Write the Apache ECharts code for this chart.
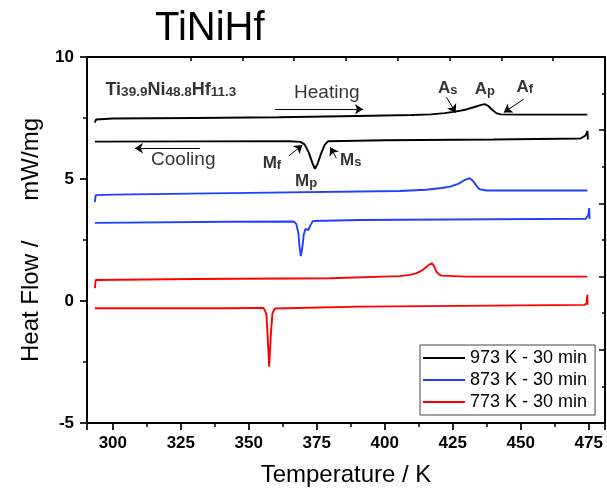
<!DOCTYPE html>
<html>
<head>
<meta charset="utf-8">
<script src="https://cdn.jsdelivr.net/npm/echarts@6.0.0/dist/echarts.min.js"></script>
<style>
  html, body { margin: 0; padding: 0; background: #fff; }
  #chart { width: 607px; height: 492px; }
</style>
</head>
<body>
<div id="chart"></div>
<script>
// curves: [temperature K, heat flow mW/mg]
const black973Heating = [
  [293.4, 7.31], [293.8, 7.44], [300, 7.48], [330, 7.50], [361, 7.53], [390, 7.58],
  [410, 7.62], [417, 7.65], [422, 7.70], [426, 7.76], [430, 7.85], [433, 7.95],
  [435.5, 8.04], [436.8, 8.07], [438, 8.00], [439.5, 7.84], [441, 7.70], [442.5, 7.65],
  [450, 7.64], [474.5, 7.64]
];
const black973Cooling = [
  [293.4, 6.53], [330, 6.54], [365, 6.55], [369, 6.52], [370.5, 6.42], [372, 6.10],
  [373.4, 5.65], [374.3, 5.42], [375.3, 5.62], [376.6, 6.05], [377.9, 6.40], [379.2, 6.55],
  [400, 6.59], [440, 6.62], [472, 6.66], [473.8, 6.78], [474.6, 6.97], [474.7, 6.62]
];
const blue873Heating = [
  [293.4, 4.06], [293.7, 4.34], [300, 4.36], [350, 4.43], [405.5, 4.51], [415, 4.56],
  [421, 4.63], [424, 4.69], [427, 4.80], [428.8, 4.92], [430.3, 5.00], [431.3, 5.03],
  [432.2, 4.95], [433.1, 4.82], [434, 4.68], [434.9, 4.58], [437.6, 4.53], [474.5, 4.53]
];
const blue873Cooling = [
  [293.4, 3.20], [343, 3.25], [366.5, 3.26], [367.5, 3.15], [368.2, 2.80], [368.7, 2.20],
  [369.1, 1.84], [369.6, 2.10], [370.2, 2.70], [370.8, 2.95], [371.2, 2.98], [371.9, 2.91],
  [372.7, 3.11], [373.6, 3.28], [390.8, 3.32], [440, 3.35], [474, 3.37], [474.9, 3.55],
  [475.2, 3.81], [475.3, 3.36]
];
const red773Heating = [
  [293.4, 0.53], [293.7, 0.86], [330, 0.90], [379.8, 0.93], [405.5, 1.02], [409.2, 1.07],
  [411.5, 1.13], [412.9, 1.20], [414.5, 1.32], [416.2, 1.48], [417.4, 1.54], [418.2, 1.42],
  [419.0, 1.20], [420, 1.09], [420.8, 1.04], [430, 1.00], [474.5, 1.00]
];
const red773Cooling = [
  [293.4, -0.30], [343, -0.30], [355.3, -0.28], [356.0, -0.40], [356.5, -0.57],
  [356.9, -1.39], [357.5, -2.69], [358.1, -1.39], [358.7, -0.50], [359.6, -0.31],
  [390.8, -0.23], [440, -0.19], [473.4, -0.16], [474.2, -0.10], [474.5, 0.25], [474.6, -0.15]
];

const legendNames = ['973 K - 30 min', '873 K - 30 min', '773 K - 30 min'];
const curveColors = ['#000000', '#1f40ff', '#ff0000'];

// text labels on the plot: [T, V], rich formatter, where the point sits
const notes = [
  { at: [297.1, 8.73], text: '{b|Ti}{s|39.9}{b|Ni}{s|48.8}{b|Hf}{s|11.3}', pos: 'right' },
  { at: [378.7, 8.52], text: '{n|Heating}', pos: 'inside' },
  { at: [325.9, 5.78], text: '{n|Cooling}', pos: 'inside' },
  { at: [423.2, 8.81], text: '{m|A}{t|s}', pos: 'inside' },
  { at: [436.8, 8.77], text: '{m|A}{t|p}', pos: 'inside' },
  { at: [451.5, 8.85], text: '{m|A}{t|f}', pos: 'inside' },
  { at: [358.5, 5.74], text: '{m|M}{t|f}', pos: 'inside' },
  { at: [387.5, 5.86], text: '{m|M}{t|s}', pos: 'inside' },
  { at: [371.1, 5.00], text: '{m|M}{t|p}', pos: 'inside' }
];
// arrows: from -> to (head at "to")
const arrows = [
  [[359.6, 7.86], [392.0, 7.86]],
  [[332.0, 6.26], [308.1, 6.26]],
  [[422.7, 8.35], [426.1, 7.72]],
  [[451.1, 8.27], [443.8, 7.73]],
  [[364.8, 5.95], [369.7, 6.39]],
  [[382.2, 5.85], [380.0, 6.30]]
];
const topTicks = ['0', '1', '2', '3', '4', '5', '6', '7', '8', '9', '10'];

const FONT = 'Liberation Sans, Arial, sans-serif';
const rich = {
  b: { fontFamily: FONT, fontSize: 18, fontWeight: 'bold', color: '#000', lineHeight: 22, verticalAlign: 'bottom' },
  s: { fontFamily: FONT, fontSize: 13.5, fontWeight: 'bold', color: '#000', lineHeight: 10, verticalAlign: 'bottom' },
  m: { fontFamily: FONT, fontSize: 17, fontWeight: 'bold', color: '#000', lineHeight: 22, verticalAlign: 'bottom' },
  t: { fontFamily: FONT, fontSize: 13, fontWeight: 'bold', color: '#000', lineHeight: 10, verticalAlign: 'bottom' },
  n: { fontFamily: FONT, fontSize: 19, color: '#000', lineHeight: 22 }
};

const chart = echarts.init(document.getElementById('chart'));

function curve(name, data, color) {
  return {
    name: name,
    type: 'line',
    data: data,
    symbol: 'none',
    smooth: false,
    lineStyle: { color: color, width: 1.9 },
    itemStyle: { color: color },
    xAxisIndex: 0,
    yAxisIndex: 0
  };
}

const option = {
  animation: false,
  backgroundColor: '#fff',
  title: {
    text: 'TiNiHf',
    left: 150,
    top: 4,
    textStyle: { fontFamily: FONT, fontSize: 40, fontWeight: 'normal', color: '#000' }
  },
  grid: { left: 87, right: 2, top: 57, bottom: 68, containLabel: false },
  legend: {
    data: legendNames,
    orient: 'vertical',
    left: 420,
    top: 345,
    icon: 'path://M0,0H42V2H0Z',
    itemWidth: 42,
    itemHeight: 14,
    itemGap: 2,
    padding: [3, 8, 3, 3],
    borderColor: '#444',
    borderWidth: 1,
    backgroundColor: '#fff',
    textStyle: { fontFamily: FONT, fontSize: 18, color: '#000', lineHeight: 20 }
  },
  xAxis: [
    {
      type: 'value',
      position: 'bottom',
      min: 290.5,
      max: 481,
      minInterval: 25,
      maxInterval: 25,
      name: 'Temperature / K',
      nameLocation: 'middle',
      nameGap: 40,
      nameTextStyle: { fontFamily: FONT, fontSize: 24, color: '#000' },
      axisLine: { onZero: false, lineStyle: { color: '#000', width: 2 } },
      axisTick: { inside: false, length: 7, lineStyle: { color: '#000', width: 1.7 } },
      minorTick: { show: true, splitNumber: 2, length: 4, lineStyle: { color: '#000', width: 1.5 } },
      axisLabel: { fontFamily: FONT, fontSize: 17, fontWeight: 'bold', color: '#000', margin: 12, showMinLabel: false, showMaxLabel: false },
      splitLine: { show: false }
    },
    {
      type: 'category',
      position: 'top',
      data: topTicks,
      boundaryGap: false,
      axisLine: { onZero: false, lineStyle: { color: '#000', width: 2 } },
      axisTick: { inside: true, length: 4, interval: function (i) { return i !== 1; }, lineStyle: { color: '#000', width: 1.5 } },
      axisLabel: { show: false },
      splitLine: { show: false }
    }
  ],
  yAxis: [
    {
      type: 'value',
      position: 'left',
      min: -5,
      max: 10,
      interval: 5,
      name: 'Heat Flow /      mW/mg',
      nameLocation: 'middle',
      nameRotate: 90,
      nameGap: 44,
      nameTextStyle: { fontFamily: FONT, fontSize: 24, color: '#000' },
      axisLine: { onZero: false, lineStyle: { color: '#000', width: 2 } },
      axisTick: { inside: false, length: 7, lineStyle: { color: '#000', width: 1.7 } },
      minorTick: { show: true, splitNumber: 2, length: 4, lineStyle: { color: '#000', width: 1.5 } },
      axisLabel: { fontFamily: FONT, fontSize: 17, fontWeight: 'bold', color: '#000', margin: 13 },
      splitLine: { show: false }
    },
    {
      type: 'value',
      position: 'right',
      min: 0,
      max: 5,
      interval: 1,
      axisLine: { show: true, onZero: false, lineStyle: { color: '#000', width: 2 } },
      axisTick: { show: true, inside: true, length: 6, lineStyle: { color: '#000', width: 1.5 } },
      minorTick: { show: true, splitNumber: 2, length: 3, lineStyle: { color: '#000', width: 1.5 } },
      axisLabel: { show: false },
      splitLine: { show: false }
    }
  ],
  series: [
    curve(legendNames[0], black973Heating, curveColors[0]),
    curve(legendNames[0], black973Cooling, curveColors[0]),
    curve(legendNames[1], blue873Heating, curveColors[1]),
    curve(legendNames[1], blue873Cooling, curveColors[1]),
    curve(legendNames[2], red773Heating, curveColors[2]),
    curve(legendNames[2], red773Cooling, curveColors[2]),
    {
      name: 'notes',
      type: 'scatter',
      silent: true,
      z: 5,
      symbolSize: 1,
      itemStyle: { color: 'rgba(0,0,0,0)' },
      data: notes.map(function (n) {
        return {
          value: n.at,
          label: { show: true, position: n.pos, distance: 0, formatter: n.text, rich: rich }
        };
      }),
      markLine: {
        silent: true,
        animation: false,
        symbol: ['none', 'arrow'],
        symbolSize: 8,
        lineStyle: { color: '#000', width: 1, type: 'solid' },
        label: { show: false },
        emphasis: { disabled: true },
        data: arrows.map(function (a) {
          return [{ coord: a[0] }, { coord: a[1] }];
        })
      }
    }
  ]
};

chart.setOption(option);
</script>
</body>
</html>
